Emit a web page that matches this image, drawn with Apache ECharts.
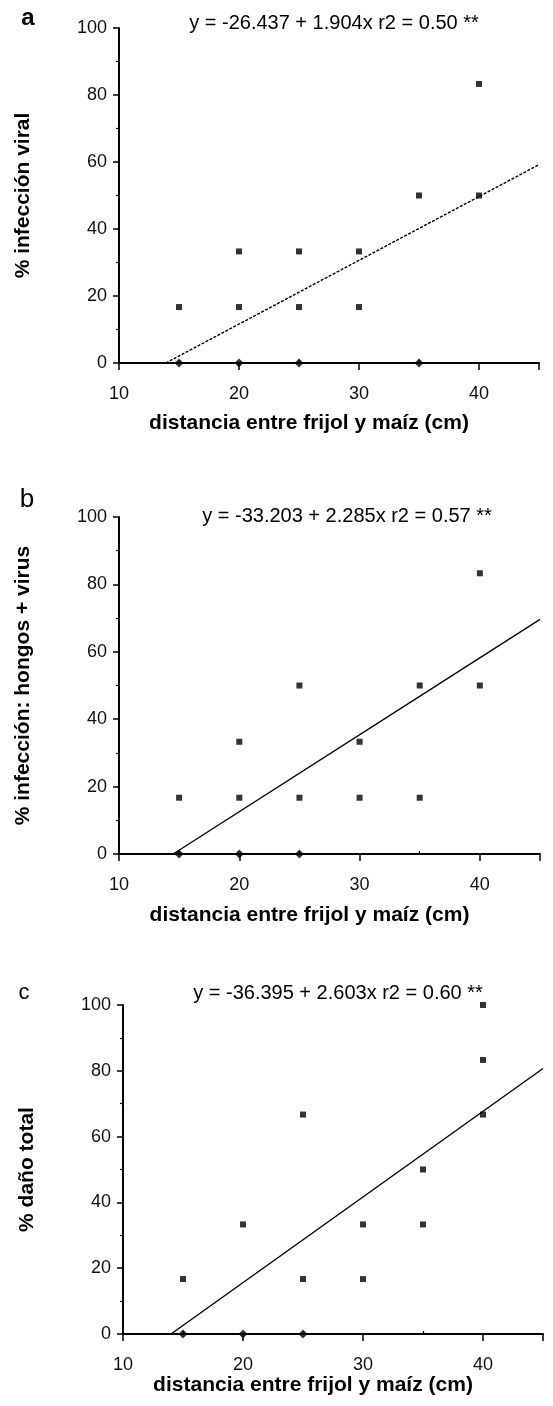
<!DOCTYPE html>
<html>
<head>
<meta charset="utf-8">
<script src="https://cdn.jsdelivr.net/npm/echarts@6/dist/echarts.min.js"></script>
<style>
  html, body { margin: 0; background: #fff; }
  #chart { width: 553px; height: 1406px; }
</style>
</head>
<body>
<div id="chart"></div>
<script>
// eje x: distancia entre frijol y maiz (cm)
const xLabels = [10, 20, 30, 40];
const xMajorTicks = [10, 20, 30, 40, 45];
const xMinorTicks = [15, 25, 35];

// a) % infección viral
const viralPts = [[15, 16.7], [20, 33.3], [20, 16.7], [25, 33.3], [25, 16.7], [30, 33.3], [30, 16.7], [35, 50], [40, 83.3], [40, 50]];
const viralZero = [[15, 0], [20, 0], [25, 0], [35, 0]];
const viralFit = [[13.9, 0], [45, 59.2]];

// b) % infección: hongos + virus
const hongosPts = [[15, 16.7], [20, 33.3], [20, 16.7], [25, 50], [25, 16.7], [30, 33.3], [30, 16.7], [35, 50], [35, 16.7], [40, 83.3], [40, 50]];
const hongosZero = [[15, 0], [20, 0], [25, 0]];
const hongosFit = [[14.5, 0], [45, 69.6]];

// c) % daño total
const totalPts = [[15, 16.7], [20, 33.3], [25, 66.7], [25, 16.7], [30, 33.3], [30, 16.7], [35, 50], [35, 33.3], [40, 100], [40, 83.3], [40, 66.7]];
const totalZero = [[15, 0], [20, 0], [25, 0]];
const totalFit = [[14, 0], [45, 80.7]];

const letters = ['a', 'b', 'c'];
const equations = [
  'y = -26.437 + 1.904x r2 = 0.50 **',
  'y = -33.203 + 2.285x r2 = 0.57 **',
  'y = -36.395 + 2.603x r2 = 0.60 **'
];
const yTitles = ['% infección viral', '% infección: hongos + virus', '% daño total'];
const xTitle = 'distancia entre frijol y maíz (cm)';

const FONT = '"Liberation Sans", Arial, Helvetica, sans-serif';

const panels = [
  { grid: { left: 119, top: 28, width: 420, height: 335 }, pts: viralPts, zero: viralZero, fit: viralFit, dash: [3, 1.5], xGap: 50,
    letter: { x: 28, y: 18, font: 'bold 24px ' + FONT }, eq: { x: 334, y: 23 } },
  { grid: { left: 119, top: 517, width: 421, height: 337 }, pts: hongosPts, zero: hongosZero, fit: hongosFit, dash: 'solid', xGap: 51,
    letter: { x: 27, y: 500, font: '26px ' + FONT }, eq: { x: 347, y: 516 } },
  { grid: { left: 123, top: 1005, width: 420, height: 329 }, pts: totalPts, zero: totalZero, fit: totalFit, dash: 'solid', xGap: 38,
    letter: { x: 24, y: 993, font: '22px ' + FONT }, eq: { x: 338, y: 993 } }
];

const black = '#000';
const grid = [], xAxis = [], yAxis = [], series = [], graphic = [];

panels.forEach((p, i) => {
  grid.push(p.grid);
  xAxis.push({
    type: 'value', gridIndex: i, min: 10, max: 45,
    axisLine: { onZero: false, lineStyle: { color: black, width: 2 } },
    axisTick: { customValues: xMajorTicks, length: 7, lineStyle: { color: black, width: 1.5 } },
    axisLabel: { customValues: xLabels, margin: 22, fontSize: 18, color: '#111', fontFamily: FONT },
    splitLine: { show: false },
    name: xTitle, nameLocation: 'middle', nameGap: p.xGap,
    nameTextStyle: { fontWeight: 'bold', fontSize: 21, color: black, fontFamily: FONT, padding: [0, 40, 0, 0] }
  });
  // small ticks between the labelled ones
  xAxis.push({
    type: 'value', gridIndex: i, min: 10, max: 45,
    axisLine: { show: false },
    axisTick: { customValues: xMinorTicks, length: 3, lineStyle: { color: black, width: 1.2 } },
    axisLabel: { show: false },
    splitLine: { show: false }
  });
  yAxis.push({
    type: 'value', gridIndex: i, min: 0, max: 100, interval: 20,
    axisLine: { show: true, onZero: false, lineStyle: { color: black, width: 2 } },
    axisTick: { show: true, length: 6, lineStyle: { color: black, width: 1.5 } },
    minorTick: { show: true, splitNumber: 2, length: 3, lineStyle: { color: black, width: 1.2 } },
    axisLabel: { margin: 12, fontSize: 18, color: '#111', fontFamily: FONT },
    splitLine: { show: false },
    name: yTitles[i], nameLocation: 'middle', nameGap: 85,
    nameTextStyle: { fontWeight: 'bold', fontSize: 21, color: black, fontFamily: FONT }
  });

  const xi = i * 2;
  series.push({
    type: 'line', xAxisIndex: xi, yAxisIndex: i, data: p.fit,
    showSymbol: false, silent: true,
    lineStyle: { color: black, width: 1.4, type: p.dash }
  });
  series.push({
    type: 'scatter', xAxisIndex: xi, yAxisIndex: i, data: p.pts,
    symbol: 'rect', symbolSize: 6, itemStyle: { color: black }
  });
  series.push({
    type: 'scatter', xAxisIndex: xi, yAxisIndex: i, data: p.zero,
    symbol: 'diamond', symbolSize: 9, itemStyle: { color: black }
  });

  graphic.push({
    type: 'text', x: p.letter.x, y: p.letter.y,
    style: { text: letters[i], font: p.letter.font, fill: black, align: 'center', verticalAlign: 'middle' }
  });
  graphic.push({
    type: 'text', x: p.eq.x, y: p.eq.y,
    style: { text: equations[i], font: '20px ' + FONT, fill: black, align: 'center', verticalAlign: 'middle' }
  });
});

const chart = echarts.init(document.getElementById('chart'), null, { renderer: 'canvas' });
chart.setOption({
  animation: false,
  backgroundColor: '#fff',
  grid, xAxis, yAxis, series, graphic
});
</script>
</body>
</html>
